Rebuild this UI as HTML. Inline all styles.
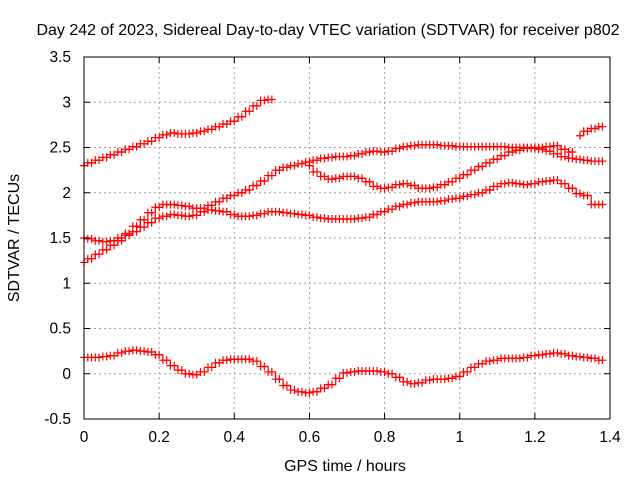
<!DOCTYPE html>
<html><head><meta charset="utf-8"><style>
body{margin:0;background:#fff}
svg text{font-family:"Liberation Sans",sans-serif;font-size:15.5px;fill:#000}
</style></head><body>
<svg id="chart" width="640" height="480" viewBox="0 0 640 480" xmlns="http://www.w3.org/2000/svg">
<text x="328" y="35" text-anchor="middle" style="font-size:16px">Day 242 of 2023, Sidereal Day-to-day VTEC variation (SDTVAR) for receiver p802</text>
<text x="345" y="471" text-anchor="middle" style="font-size:16px">GPS time / hours</text>
<text transform="translate(19,238) rotate(-90)" text-anchor="middle" style="font-size:16px">SDTVAR / TECUs</text>
<g id="grid"></g>
<g id="series"></g>
<rect x="84" y="57" width="526" height="362" fill="none" stroke="#000" stroke-width="1"/>
<g id="ticks"></g>
</svg>
<script>
const xTicks=[0,0.2,0.4,0.6,0.8,1,1.2,1.4];
const xTickLabels=["0","0.2","0.4","0.6","0.8","1","1.2","1.4"];
const yTicks=[-0.5,0,0.5,1,1.5,2,2.5,3,3.5];
const yTickLabels=["-0.5","0","0.5","1","1.5","2","2.5","3","3.5"];
const timeStep=0.02;
const seriesA1=[2.3,2.33,2.36,2.39,2.42,2.45,2.48,2.51,2.54,2.57,2.61,2.64,2.66,2.65,2.65,2.66,2.68,2.70,2.73,2.76,2.79,2.84,2.90,2.96,3.02,3.03];
const seriesA1Start=0;
const seriesA2=[2.63,2.68,2.71,2.73];
const seriesA2Start=66;
const seriesB=[1.23,1.27,1.32,1.37,1.42,1.47,1.55,1.63,1.70,1.78,1.84,1.87,1.87,1.86,1.85,1.83,1.83,1.86,1.90,1.94,1.97,2.00,2.03,2.08,2.13,2.19,2.25,2.28,2.30,2.32,2.34,2.36,2.38,2.39,2.40,2.40,2.41,2.43,2.45,2.46,2.45,2.46,2.49,2.51,2.52,2.53,2.53,2.53,2.52,2.52,2.51,2.51,2.51,2.51,2.51,2.51,2.51,2.50,2.50,2.50,2.49,2.48,2.46,2.43,2.40,2.38,2.37,2.36,2.35,2.35];
const seriesBStart=0;
const seriesE=[2.30,2.23,2.18,2.15,2.16,2.18,2.18,2.16,2.12,2.07,2.05,2.06,2.09,2.10,2.08,2.05,2.05,2.06,2.09,2.12,2.16,2.20,2.25,2.29,2.33,2.37,2.41,2.45,2.47,2.49,2.50,2.50,2.51,2.52,2.48,2.45];
const seriesEStart=30;
const seriesC=[1.50,1.49,1.47,1.46,1.47,1.50,1.53,1.57,1.62,1.67,1.72,1.74,1.76,1.75,1.74,1.75,1.79,1.81,1.80,1.79,1.76,1.74,1.74,1.75,1.77,1.79,1.79,1.78,1.77,1.76,1.75,1.73,1.72,1.71,1.71,1.71,1.71,1.72,1.73,1.76,1.79,1.82,1.85,1.87,1.89,1.90,1.90,1.90,1.91,1.93,1.94,1.96,1.98,2.00,2.03,2.07,2.10,2.11,2.10,2.09,2.10,2.12,2.13,2.14,2.10,2.05,1.99,1.97,1.87,1.87];
const seriesCStart=0;
const seriesF=[0.18,0.18,0.18,0.19,0.20,0.23,0.25,0.26,0.25,0.24,0.21,0.15,0.09,0.04,0.00,-0.01,0.02,0.07,0.12,0.15,0.16,0.16,0.16,0.14,0.08,0.02,-0.06,-0.13,-0.18,-0.20,-0.21,-0.20,-0.16,-0.12,-0.05,0.01,0.02,0.03,0.03,0.03,0.02,0.00,-0.04,-0.09,-0.11,-0.10,-0.07,-0.06,-0.06,-0.05,-0.03,0.02,0.07,0.11,0.14,0.15,0.17,0.17,0.17,0.18,0.20,0.21,0.22,0.23,0.22,0.20,0.19,0.18,0.17,0.15];
const seriesFStart=0;

const NS="http://www.w3.org/2000/svg";
const X0=84,X1=610,Y0=419,Y1=57;
function xs(v){return X0+(v-0)/(1.4-0)*(X1-X0);}
function ys(v){return Y0-(v+0.5)/(3.5+0.5)*(Y0-Y1);}
function mk(tag,attrs,parent){const e=document.createElementNS(NS,tag);for(const k in attrs)e.setAttribute(k,attrs[k]);parent.appendChild(e);return e;}
const grid=document.getElementById('grid'),ticks=document.getElementById('ticks'),ser=document.getElementById('series');
xTicks.forEach((t,i)=>{
  const x=xs(t);
  if(i>0&&i<xTicks.length-1){const g=mk('line',{x1:x,x2:x,y1:Y1,y2:Y0,stroke:'#a0a0a0','stroke-dasharray':'2,3'},grid);
  
  }
  const a=mk('line',{x1:x,x2:x,y1:Y0,y2:Y0-6,stroke:'#000'},ticks);
  
  
  const b=mk('line',{x1:x,x2:x,y1:Y1,y2:Y1+6,stroke:'#000'},ticks);
  
  
  const l=mk('text',{x:x,y:442,'text-anchor':'middle'},ticks);l.textContent=xTickLabels[i];
  
  
});
yTicks.forEach((t,i)=>{
  const y=ys(t);
  if(i>0&&i<yTicks.length-1){const g=mk('line',{x1:X0,x2:X1,y1:y,y2:y,stroke:'#a0a0a0','stroke-dasharray':'2,3'},grid);
  
  }
  const a=mk('line',{x1:X0,x2:X0+6,y1:y,y2:y,stroke:'#000'},ticks);
  
  
  const b=mk('line',{x1:X1,x2:X1-6,y1:y,y2:y,stroke:'#000'},ticks);
  
  
  const l=mk('text',{x:71,y:y+5,'text-anchor':'end'},ticks);l.textContent=yTickLabels[i];
  
  
});
function plus(g,name,x,y){
  const m=mk('path',{d:`M${x-4} ${y}H${x+4}M${x} ${y-4}V${y+4}`,stroke:'#f00','stroke-width':1.2},g);
  
  
}
function draw(vals,start,name){
  const g=mk('g',{},ser);
  
  
  let d='';
  vals.forEach((v,i)=>{const x=xs((start+i)*timeStep),y=ys(v);
    if(i===0)d+='M'+x+' '+y;else{const px=xs((start+i-0.5)*timeStep);d+=' H'+px+' V'+y+' H'+x;}});
  const p=mk('path',{d:d,fill:'none',stroke:'#f00','stroke-width':1.2},g);
  
  
  vals.forEach((v,i)=>{const x=xs((start+i)*timeStep),y=ys(v);
    plus(g,name,x,y);
    if(i>0)plus(g,name,xs((start+i-0.5)*timeStep),y);
  });
}
draw(seriesA1,seriesA1Start,'series-a');
draw(seriesA2,seriesA2Start,'series-a-late');
draw(seriesB,seriesBStart,'series-b');
draw(seriesE,seriesEStart,'series-e');
draw(seriesC,seriesCStart,'series-c');
draw(seriesF,seriesFStart,'series-f');
</script>
</body></html>
